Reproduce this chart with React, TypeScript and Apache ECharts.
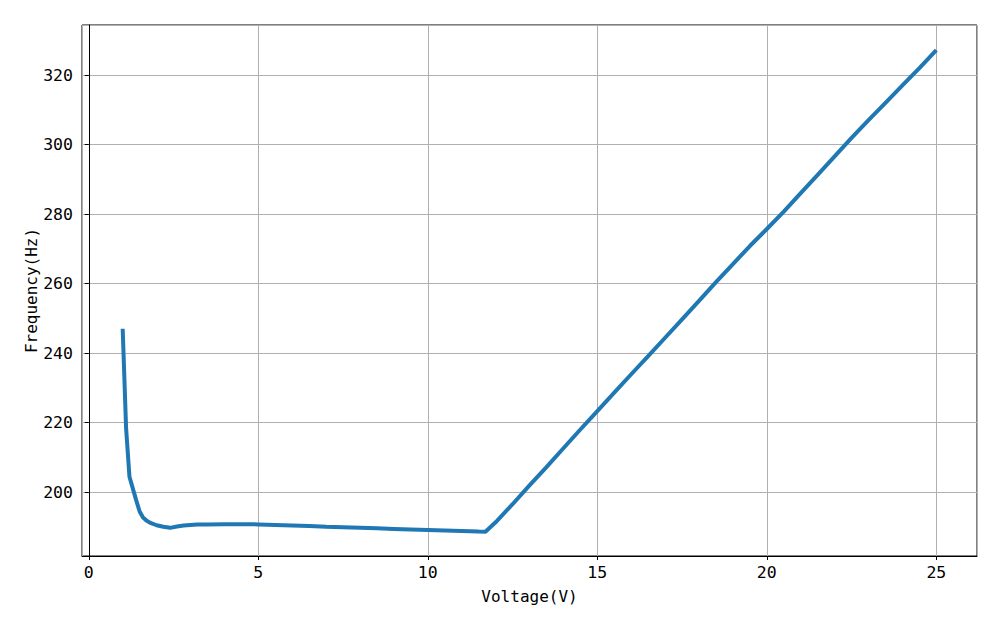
import React, { useEffect, useRef } from "react";
import * as echarts from "echarts";

const voltage = [
  1.0, 1.1, 1.2, 1.3, 1.4, 1.5, 1.6, 1.7, 1.8, 2.0, 2.2, 2.4, 2.6, 2.8, 3.0, 3.2, 3.5, 4.0, 4.5,
  5.0, 5.5, 6.0, 6.5, 7.0, 7.5, 8.0, 8.5, 9.0, 9.5, 10.0, 10.5, 11.0, 11.5, 11.7, 12.0, 12.5,
  13.0, 13.5, 14.0, 14.5, 15.0, 15.5, 16.0, 16.5, 17.0, 17.5, 18.0, 18.5, 19.0, 19.5, 20.0,
  20.5, 21.0, 21.5, 22.0, 22.5, 23.0, 23.5, 24.0, 24.5, 25.0,
];
const frequency = [
  247.0, 218.5, 204.4, 201.0, 197.6, 194.4, 192.7, 191.8, 191.2, 190.45, 190.0, 189.7, 190.1,
  190.35, 190.5, 190.65, 190.7, 190.75, 190.75, 190.7, 190.55, 190.4, 190.2, 190.0, 189.85,
  189.7, 189.55, 189.4, 189.25, 189.1, 188.95, 188.8, 188.65, 188.6, 191.3, 196.5, 201.9,
  207.2, 212.6, 218.0, 223.3, 228.6, 233.9, 239.1, 244.4, 249.7, 255.0, 260.4, 265.6, 270.8,
  275.7, 280.7, 286.0, 291.3, 296.6, 301.9, 307.0, 312.0, 317.0, 322.0, 327.2,
];

const xTitle = "Voltage(V)";
const yTitle = "Frequency(Hz)";

const FONT = "'DejaVu Sans Mono', 'Liberation Mono', monospace";

export default function App() {
  const ref = useRef<HTMLDivElement>(null);
  useEffect(() => {
    if (!ref.current) return;
    const chart = echarts.init(ref.current, null, { renderer: "svg" });
    const data = voltage.map((v, i) => [v, frequency[i]]);
    chart.setOption({
      animation: false,
      backgroundColor: "#ffffff",
      grid: {
        left: 82,
        right: 23,
        top: 25,
        bottom: 69,
        show: true,
        borderColor: "#000000",
        borderWidth: 1,
        containLabel: false,
      },
      xAxis: {
        type: "value",
        min: -0.2,
        max: 26.2,
        splitNumber: 5,
        name: xTitle,
        nameLocation: "middle",
        nameGap: 32,
        nameMoveOverlap: false,
        nameTextStyle: { fontFamily: FONT, fontSize: 16, color: "#000" },
        axisLine: { show: true, lineStyle: { color: "#000", width: 1 } },
        axisTick: { show: true, inside: false, length: 4, lineStyle: { color: "#000" } },
        axisLabel: {
          showMinLabel: false,
          showMaxLabel: false,
          margin: 8,
          fontFamily: FONT,
          fontSize: 16.5,
          color: "#000",
        },
        splitLine: { show: true, lineStyle: { color: "#b0b0b0", width: 1 } },
      },
      yAxis: {
        type: "value",
        min: 181.6,
        max: 334.4,
        splitNumber: 8,
        name: yTitle,
        nameLocation: "middle",
        nameGap: 43,
        nameMoveOverlap: false,
        nameTextStyle: { fontFamily: FONT, fontSize: 16, color: "#000" },
        axisLine: { show: true, lineStyle: { color: "#000", width: 1 } },
        axisTick: { show: true, inside: false, length: 4, lineStyle: { color: "#000" } },
        axisLabel: {
          showMinLabel: false,
          showMaxLabel: false,
          margin: 9,
          fontFamily: FONT,
          fontSize: 16.5,
          color: "#000",
        },
        splitLine: { show: true, lineStyle: { color: "#b0b0b0", width: 1 } },
      },
      series: [
        {
          type: "line",
          data,
          showSymbol: false,
          symbol: "none",
          lineStyle: { color: "#1f77b4", width: 4 },
          itemStyle: { color: "#1f77b4" },
        },
      ],
    });
    return () => chart.dispose();
  }, []);
  return <div ref={ref} style={{ width: 1000, height: 625, position: "absolute", left: 0, top: 0 }} />;
}
